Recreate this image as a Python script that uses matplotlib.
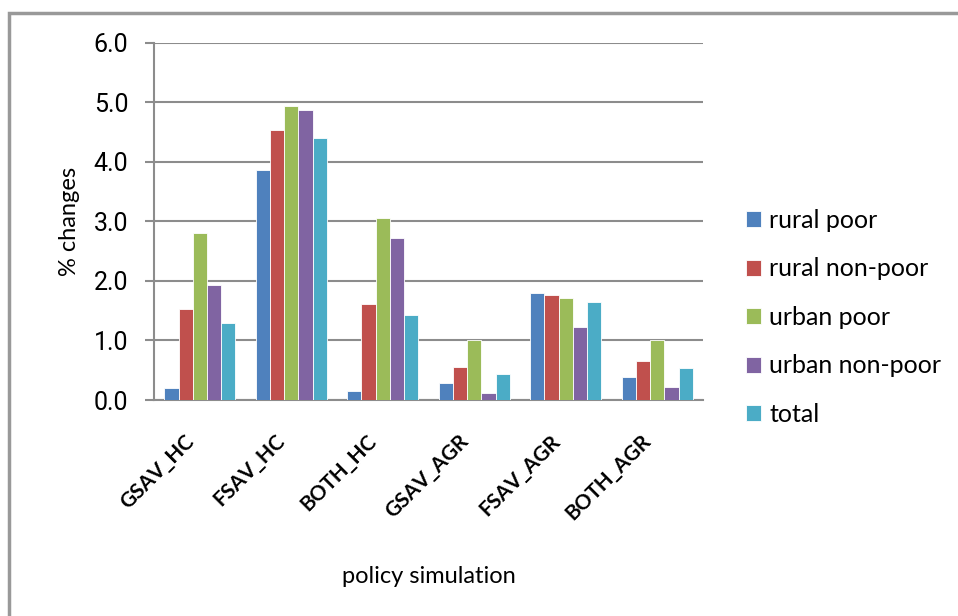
import numpy as np
import matplotlib.pyplot as plt
from matplotlib.patches import Rectangle
from matplotlib.transforms import ScaledTranslation

plt.rcParams['font.family'] = ['Lato', 'DejaVu Sans']

policies = ['GSAV_HC', 'FSAV_HC', 'BOTH_HC', 'GSAV_AGR', 'FSAV_AGR', 'BOTH_AGR']
groups = ['rural poor', 'rural non-poor', 'urban poor', 'urban non-poor', 'total']

rural_poor = [0.21, 3.86, 0.15, 0.29, 1.79, 0.38]
rural_nonpoor = [1.53, 4.53, 1.61, 0.56, 1.76, 0.66]
urban_poor = [2.81, 4.94, 3.05, 1.01, 1.71, 1.01]
urban_nonpoor = [1.93, 4.86, 2.72, 0.12, 1.22, 0.22]
total = [1.30, 4.39, 1.42, 0.44, 1.65, 0.54]

series = [rural_poor, rural_nonpoor, urban_poor, urban_nonpoor, total]
colors = ['#4F81BD', '#C0504D', '#9BBB59', '#8064A2', '#4BACC6']

fig = plt.figure(figsize=(9.58, 6.16), dpi=100)
ax = fig.add_axes([0.1608, 0.3506, 0.5730, 0.5804])

x = np.arange(len(policies))
w = 0.155
for i, (vals, c, lab) in enumerate(zip(series, colors, groups)):
    ax.bar(x + (i - 2) * w, vals, w, color=c, edgecolor='white', linewidth=0.6,
           label=lab, zorder=3)

ax.set_xlim(-0.5, len(policies) - 0.5)
ax.set_ylim(0, 6)
ax.set_yticks(np.arange(0, 6.1, 1.0))
ax.set_yticklabels([f'{v:.1f}' for v in np.arange(0, 6.1, 1.0)], fontsize=18,
                   family=['Roboto', 'DejaVu Sans'])
ax.grid(axis='y', color='#8c8c8c', linewidth=1.5, zorder=0)

for s in ['top', 'right']:
    ax.spines[s].set_visible(False)
for s in ['left', 'bottom']:
    ax.spines[s].set_color('#8c8c8c')
    ax.spines[s].set_linewidth(1.5)

ax.tick_params(axis='y', length=6.5, width=1.5, color='#8c8c8c', pad=12)
ax.tick_params(axis='x', length=0, pad=8)
ax.set_xticks(x)
ax.set_xticklabels(policies, rotation=45, ha='right', rotation_mode='anchor',
                   fontsize=15, fontweight='bold')
# nudge the slanted labels down and to the left
shift = ScaledTranslation(-0.16, -0.20, fig.dpi_scale_trans)
for t in ax.get_xticklabels():
    t.set_transform(t.get_transform() + shift)

ax.set_ylabel('% changes', fontsize=17, labelpad=10)
ax.set_xlabel('policy simulation', fontsize=17, labelpad=30)

fig.legend(loc='upper left', bbox_to_anchor=(0.768, 0.677), frameon=False,
           fontsize=18, handlelength=0.6, handleheight=0.6, handletextpad=0.35,
           labelspacing=1.02, borderaxespad=0)

# outer chart frame
fig.patches.append(Rectangle((9 / 958, -0.05), 1.1, 1 - 13 / 616 + 0.05,
                             transform=fig.transFigure, fill=False,
                             edgecolor='#999999', linewidth=2.5))

fig.savefig('out.png', dpi=100)
